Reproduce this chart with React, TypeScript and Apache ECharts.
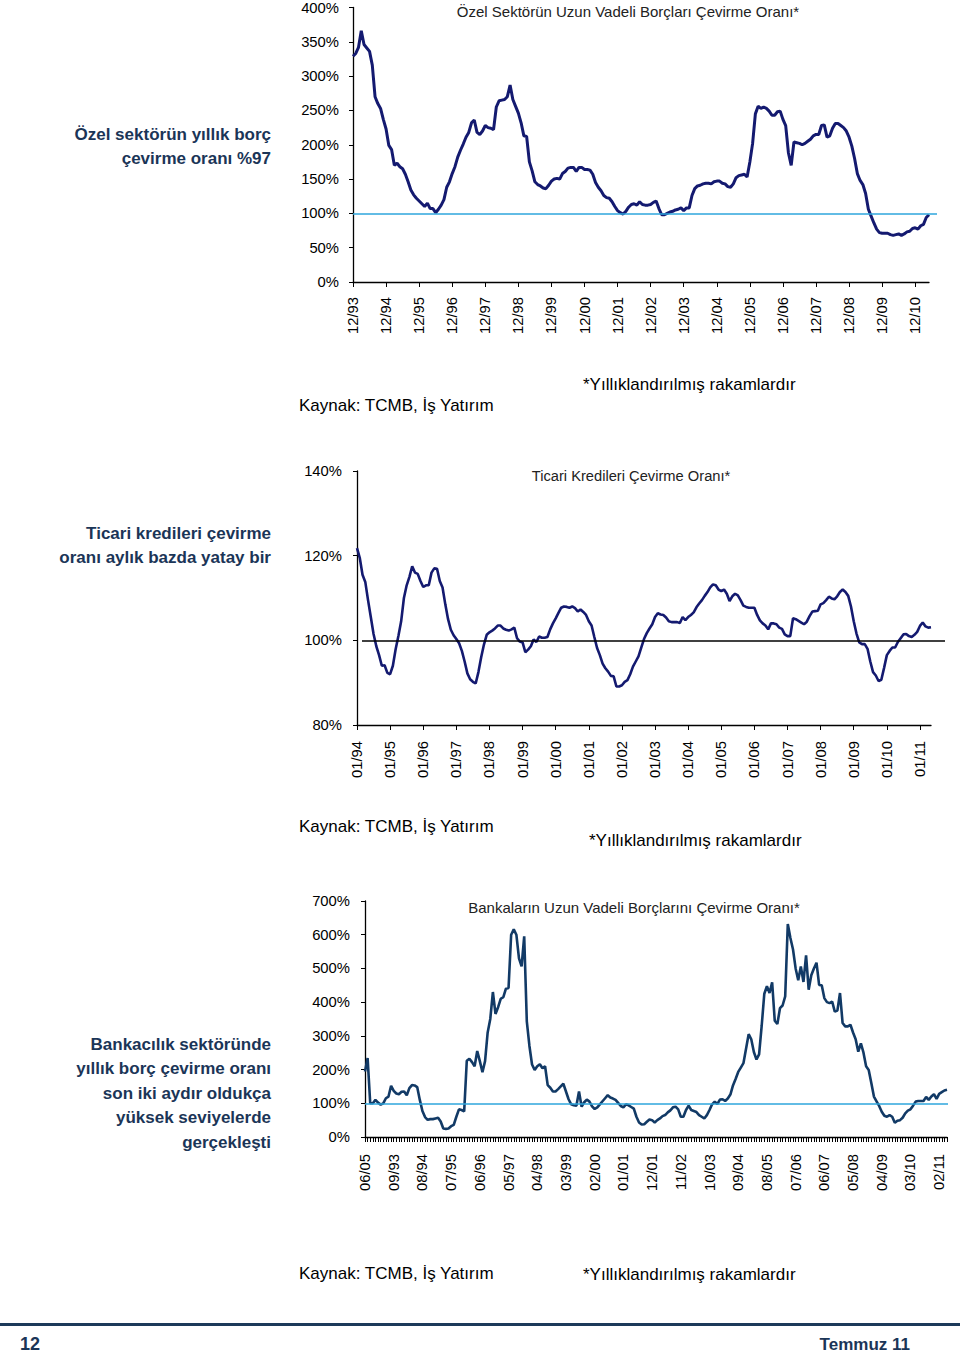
import React, { useEffect, useRef } from "react";
import * as echarts from "echarts";

// Özel sektör uzun vadeli borç çevirme oranı (%), aylık, 12/93 - 05/11
const privateRollover = [
  329, 333, 342, 366, 346, 341, 336, 316, 270, 260, 253, 237,
  223, 199, 193, 170, 173, 168, 165, 157, 146, 134, 127, 122,
  118, 114, 110, 115, 107, 107, 101, 106, 112, 120, 138, 146,
  158, 168, 182, 192, 201, 211, 218, 232, 236, 218, 215, 220,
  228, 225, 224, 222, 255, 264, 265, 266, 270, 287, 266, 256,
  246, 232, 213, 212, 175, 162, 146, 142, 140, 137, 136, 141,
  147, 150, 151, 150, 158, 161, 166, 167, 167, 161, 167, 167,
  164, 164, 163, 157, 145, 138, 133, 126, 123, 122, 117, 110,
  104, 101, 99, 103, 109, 113, 114, 112, 117, 113, 112, 112,
  113, 116, 118, 107, 98, 98, 100, 102, 103, 105, 106, 108,
  104, 108, 108, 126, 136, 140, 141, 143, 144, 144, 143, 146,
  147, 147, 144, 143, 139, 138, 143, 152, 155, 156, 157, 153,
  175, 202, 245, 256, 253, 255, 253, 249, 243, 243, 248, 249,
  237, 228, 188, 170, 204, 203, 202, 200, 202, 205, 208, 213,
  215, 215, 228, 229, 211, 213, 224, 231, 231, 228, 225, 220,
  211, 198, 180, 158, 148, 142, 129, 106, 96, 86, 77, 72,
  71, 71, 71, 69, 68, 69, 70, 68, 70, 73, 74, 78,
  79, 77, 82, 84, 94, 98,
];

// Ticari kredileri çevirme oranı (%), aylık, 01/94 - 05/11
const tradeRollover = [
  121.8, 119.5, 115.5, 113.8, 109.5, 105.5, 101.5, 98.6, 96.5, 94, 94.1, 92.3,
  92, 94, 97.9, 101, 104.5, 110, 113, 115, 117.5, 116, 115.7, 114,
  112.6, 113, 113, 116, 117, 116.9, 114, 112.5, 108.5, 105, 102.5, 101.2,
  100.3, 99.3, 97.5, 95, 92.2, 90.8, 90.2, 89.8, 92.5, 96, 99, 101.3,
  101.9, 102.3, 102.8, 103.5, 103.5, 102.8, 102.5, 102.3, 102.6, 103, 100.5, 99.7,
  99.5, 97.2, 97.8, 98.6, 100.2, 99.6, 100.9, 100.6, 100.6, 100.8, 102.6, 104,
  105.2, 106.5, 107.7, 108, 107.9, 107.7, 108, 107.6, 106.8, 107.3, 106.7, 106,
  104.5, 103.5, 100.8, 98.2, 96.5, 94.5, 93.4, 92.6, 91.6, 91.5, 89.1, 89.1,
  89.4, 90.2, 90.6, 92, 93.8, 95, 96.2, 98.3, 100.3, 101.7, 102.8, 103.8,
  105.5, 106.4, 106.1, 106, 105.4, 104.5, 104.3, 104.3, 104.3, 104.1, 105.5, 104.8,
  105.5, 106, 106.6, 107.8, 108.7, 109.5, 110.5, 111.4, 112.5, 113.2, 113, 112,
  111.6, 112, 111, 109.3, 110.4, 111, 110.6, 109.5, 108.2, 107.9, 107.7, 107.7,
  107.7, 106, 104.7, 104, 103.5, 102.6, 104, 104, 103.8, 103, 102.7, 101.4,
  101, 101, 105.2, 105, 104.6, 104.2, 103.8, 104.4, 105.7, 106.8, 106.9, 107,
  108.5, 108.8, 109.5, 110.3, 109.9, 109.7, 110.4, 111.4, 112, 111.4, 110.5, 108,
  104.5, 101.6, 99.5, 99.1, 99.1, 98, 95, 92.5, 91.7, 90.4, 90.7, 93.5,
  96.5, 97.5, 98.3, 98.3, 99.6, 100.5, 101.4, 101.5, 101, 100.8, 101.3, 102,
  103.4, 104.2, 103.3, 103, 103.1,
];

// Bankaların uzun vadeli borç çevirme oranı (%), aylık, 10/92 - 05/11
const bankRollover = [
  194, 234, 100, 100, 110, 102, 96, 100, 115, 120, 152, 137,
  129, 127, 134, 135, 124, 145, 154, 153, 148, 110, 77, 59,
  51, 53, 53, 55, 57, 46, 25, 24, 25, 32, 36, 60,
  82, 80, 76, 226, 232, 222, 210, 255, 225, 192, 225, 310,
  350, 430, 365, 385, 410, 415, 440, 442, 600, 616, 600, 530,
  506, 595, 343, 270, 215, 199, 210, 216, 204, 210, 154, 146,
  135, 135, 142, 150, 158, 135, 112, 97, 94, 93, 135, 90,
  103, 111, 105, 91, 83, 88, 97, 106, 115, 124, 117, 114,
  110, 101, 92, 88, 97, 94, 89, 84, 60, 43, 37, 38,
  45, 52, 50, 43, 50, 55, 62, 65, 73, 79, 88, 90,
  82, 60, 60, 80, 93, 80, 77, 74, 65, 60, 55, 65,
  80, 97, 105, 98, 111, 112, 107, 114, 126, 153, 172, 193,
  206, 219, 262, 305, 290, 252, 230, 245, 330, 425, 447, 427,
  459, 345, 335, 382, 390, 417, 632, 590, 556, 500, 465, 506,
  460, 539, 437, 480, 500, 517, 451, 450, 412, 400, 397, 402,
  372, 375, 427, 338, 328, 328, 333, 310, 290, 253, 278, 250,
  210, 199, 160, 120, 106, 92, 75, 63, 60, 65, 60, 42,
  48, 50, 57, 70, 78, 82, 93, 105, 107, 107, 107, 119,
  110, 120, 127, 113, 128, 133, 138, 140,
];

// Tick labels of the bank chart, one every 11 months (as printed)
const bankTickLabels = [
  "06/05", "09/93", "08/94", "07/95", "06/96", "05/97", "04/98", "03/99", "02/00", "01/01",
  "12/01", "11/02", "10/03", "09/04", "08/05", "07/06", "06/07", "05/08", "04/09", "03/10", "02/11",
];

const REF_LEVEL = 100;

function monthSeq(startMonth: number, startYear: number, count: number): string[] {
  const out: string[] = [];
  for (let k = 0; k < count; k++) {
    const idx = startMonth - 1 + k;
    const m = (idx % 12) + 1;
    const y = (startYear + Math.floor(idx / 12)) % 100;
    out.push(String(m).padStart(2, "0") + "/" + String(y).padStart(2, "0"));
  }
  return out;
}

const privateMonths = monthSeq(12, 1993, privateRollover.length);
const tradeMonths = monthSeq(1, 1994, tradeRollover.length);
const bankMonths = monthSeq(10, 1992, bankRollover.length);

const FONT = '"Liberation Sans", Arial, Helvetica, sans-serif';
const NOTE_COLOR = "#1b3557";
const TICK_FONT = 14.8;

function xAxisCfg(gridIndex: number, data: string[], labelInterval: number, tickInterval: number, margin: number, formatter?: any) {
  return {
    gridIndex,
    type: "category",
    data,
    boundaryGap: false,
    axisLine: { show: true, lineStyle: { color: "#000", width: 1.3 } },
    axisTick: { show: true, interval: tickInterval, length: 5, lineStyle: { color: "#000", width: 1 } },
    axisLabel: {
      interval: labelInterval,
      rotate: 90,
      fontSize: TICK_FONT,
      color: "#000",
      margin,
      fontFamily: FONT,
      ...(formatter ? { formatter } : {}),
    },
    splitLine: { show: false },
  };
}

function yAxisCfg(gridIndex: number, min: number, max: number, interval: number, margin: number) {
  return {
    gridIndex,
    type: "value",
    min,
    max,
    interval,
    axisLine: { show: true, lineStyle: { color: "#000", width: 1.3 } },
    axisTick: { show: true, length: 4, lineStyle: { color: "#000", width: 1 } },
    axisLabel: { formatter: "{value}%", fontSize: TICK_FONT, color: "#000", margin, fontFamily: FONT },
    splitLine: { show: false },
  };
}

function refLine(color: string, fromX: number, toX: number) {
  return {
    silent: true,
    symbol: ["none", "none"],
    label: { show: false },
    lineStyle: { color, width: 1.5, type: "solid" },
    emphasis: { disabled: true },
    data: [[{ yAxis: REF_LEVEL, x: fromX }, { yAxis: REF_LEVEL, x: toX }]],
  };
}

function txt(text: string, x: number, y: number, opts: any = {}) {
  const align = opts.align || "left";
  return {
    type: "text",
    x,
    y,
    silent: true,
    style: {
      text,
      fill: opts.fill || "#000",
      font: opts.font || `17px ${FONT}`,
      align,
      textAlign: align,
      verticalAlign: "middle",
      textVerticalAlign: "middle",
    },
  };
}

function note(lines: string[], firstCenterY: number, lineGap: number) {
  return lines.map((l, k) =>
    txt(l, 271, firstCenterY + k * lineGap, { align: "right", fill: NOTE_COLOR, font: `bold 17px ${FONT}` })
  );
}

export default function App() {
  const ref = useRef<HTMLDivElement>(null);

  useEffect(() => {
    if (!ref.current) return;
    const chart = echarts.init(ref.current, undefined, { renderer: "svg" });
    const option: any = {
      animation: false,
      backgroundColor: "#ffffff",
      grid: [
        { left: 353, top: 6, width: 576, height: 276 },
        { left: 357, top: 471, width: 574, height: 254 },
        { left: 365, top: 901, width: 582, height: 236 },
      ],
      xAxis: [
        xAxisCfg(0, privateMonths, 11, 11, 15),
        xAxisCfg(1, tradeMonths, 11, 11, 16),
        xAxisCfg(2, bankMonths, 10, 0, 17, (v: string, i: number) => bankTickLabels[Math.round(i / 11)] ?? v),
      ],
      yAxis: [
        yAxisCfg(0, 0, 400, 50, 14),
        yAxisCfg(1, 80, 140, 20, 15),
        yAxisCfg(2, 0, 700, 100, 15),
      ],
      series: [
        {
          type: "line",
          xAxisIndex: 0,
          yAxisIndex: 0,
          data: privateRollover,
          showSymbol: false,
          symbol: "none",
          lineStyle: { color: "#141a70", width: 3 },
          markLine: refLine("#2ea6dd", 353, 937),
          z: 3,
        },
        {
          type: "line",
          xAxisIndex: 1,
          yAxisIndex: 1,
          data: tradeRollover,
          showSymbol: false,
          symbol: "none",
          lineStyle: { color: "#141a70", width: 2.6 },
          markLine: refLine("#000000", 362, 945),
          z: 3,
        },
        {
          type: "line",
          xAxisIndex: 2,
          yAxisIndex: 2,
          data: bankRollover,
          showSymbol: false,
          symbol: "none",
          lineStyle: { color: "#123a66", width: 2.6 },
          markLine: refLine("#2ea6dd", 365, 948),
          z: 3,
        },
      ],
      graphic: [
        txt("Özel Sektörün Uzun Vadeli Borçları Çevirme Oranı*", 628, 11, { align: "center", fill: "#222", font: `15px ${FONT}` }),
        txt("Ticari Kredileri Çevirme Oranı*", 631, 476, { align: "center", fill: "#222", font: `14.7px ${FONT}` }),
        txt("Bankaların Uzun Vadeli Borçlarını Çevirme Oranı*", 634, 907, { align: "center", fill: "#222", font: `15px ${FONT}` }),
        ...note(["Özel sektörün yıllık borç", "çevirme oranı %97"], 134, 24),
        ...note(["Ticari kredileri çevirme", "oranı aylık bazda yatay bir"], 533, 24),
        ...note(
          ["Bankacılık sektöründe", "yıllık borç çevirme oranı", "son iki aydır oldukça", "yüksek seviyelerde", "gerçekleşti"],
          1044,
          24.5
        ),
        txt("Kaynak: TCMB, İş Yatırım", 299, 405),
        txt("*Yıllıklandırılmış rakamlardır", 583, 384),
        txt("Kaynak: TCMB, İş Yatırım", 299, 826),
        txt("*Yıllıklandırılmış rakamlardır", 589, 840),
        txt("Kaynak: TCMB, İş Yatırım", 299, 1273),
        txt("*Yıllıklandırılmış rakamlardır", 583, 1274),
        {
          type: "rect",
          silent: true,
          shape: { x: 0, y: 1323, width: 960, height: 3 },
          style: { fill: "#1d3a5a" },
        },
        txt("12", 20, 1344, { fill: NOTE_COLOR, font: `bold 18px ${FONT}` }),
        txt("Temmuz 11", 910, 1344, { align: "right", fill: NOTE_COLOR, font: `bold 17px ${FONT}` }),
      ],
    };
    chart.setOption(option);
    return () => chart.dispose();
  }, []);

  return (
    <div
      ref={ref}
      style={{ position: "absolute", left: 0, top: 0, width: 960, height: 1353, background: "#fff" }}
    />
  );
}
